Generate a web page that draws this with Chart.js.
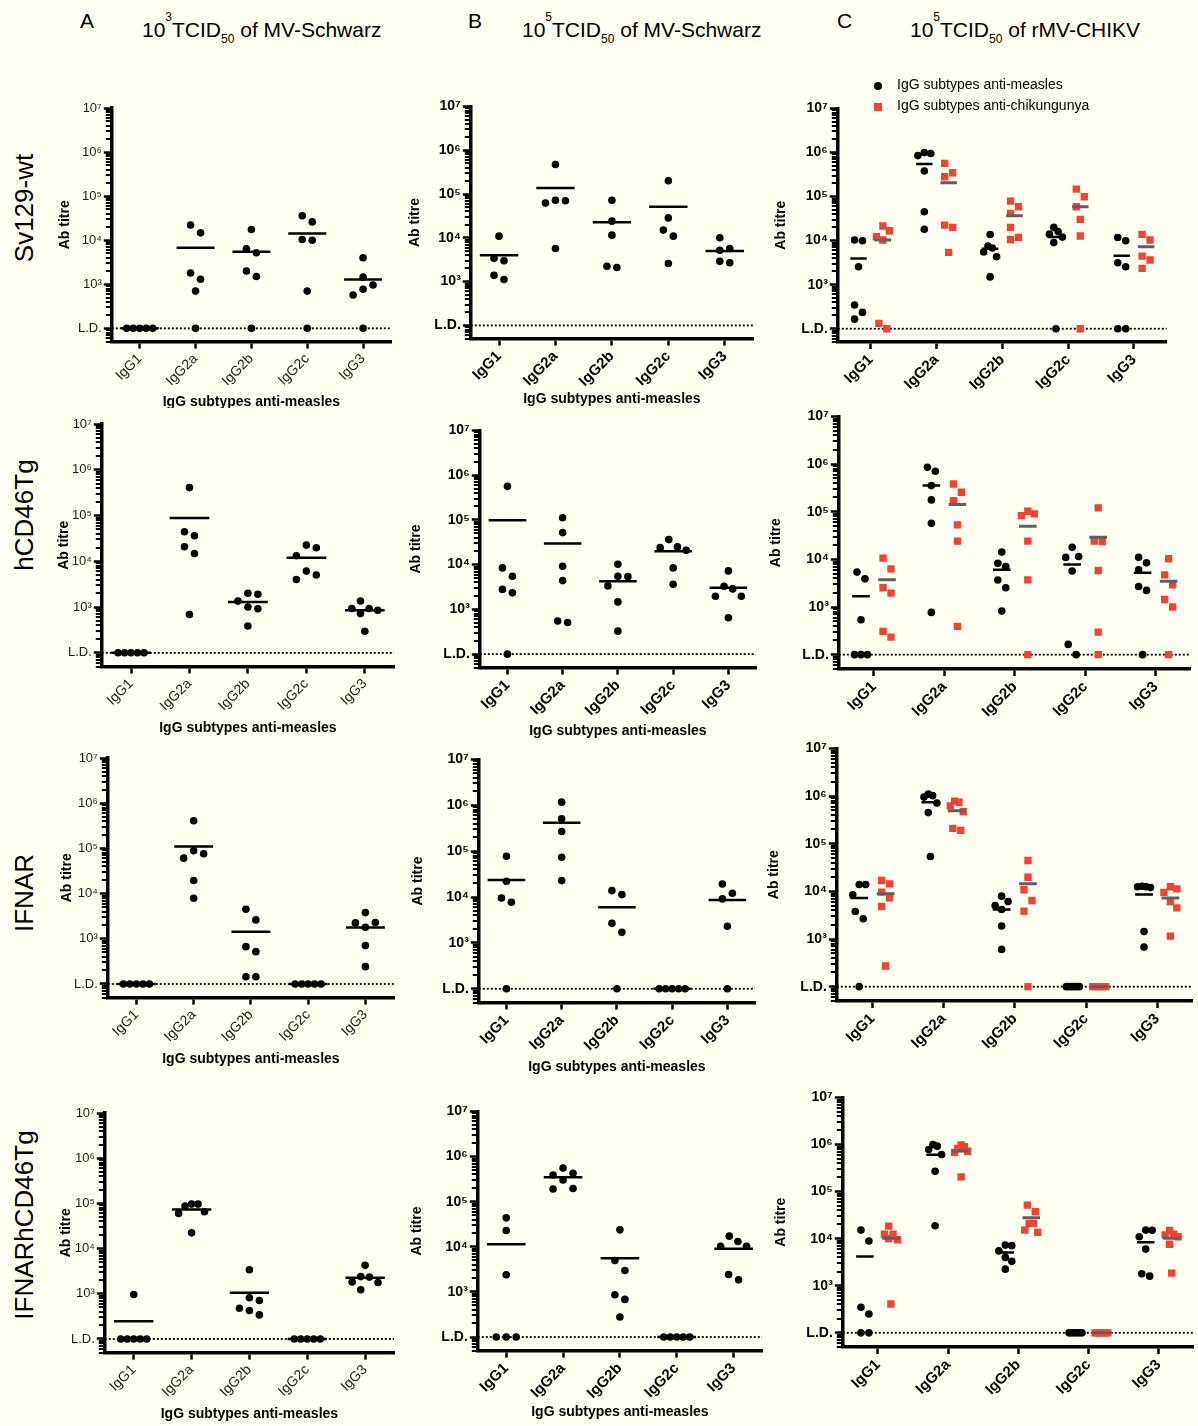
<!DOCTYPE html>
<html>
<head>
<meta charset="utf-8">
<script src="https://cdn.jsdelivr.net/npm/chart.js@4.4.1/dist/chart.umd.min.js"></script>
<style>
  body { margin: 0; background: #fffff2; font-family: Arial, "Liberation Sans", sans-serif; }
  #page { position: relative; width: 1198px; height: 1426px; overflow: hidden; }
  .panel { position: absolute; overflow: hidden; }
  .letter { position: absolute; font-size: 21px; line-height: 21px; }
  .head { position: absolute; font-size: 21px; line-height: 21px; white-space: nowrap; }
  .head .sup { font-size: 12px; position: relative; top: -16px; }
  .head .sub { font-size: 12px; position: relative; top: 6px; }
  .strain { position: absolute; font-size: 26px; white-space: nowrap; transform: translate(-50%, -50%) rotate(-90deg); }
  .legend { position: absolute; left: 874px; top: 74px; font-size: 14px; line-height: 21px; z-index: 5; }
  .legend div { white-space: nowrap; }
  .mark { display: inline-block; width: 8px; height: 8px; margin-right: 15px; vertical-align: -1px; }
</style>
</head>
<body>
<div id="page"></div>
<script>
// categories and axis labels
var categories = ["IgG1", "IgG2a", "IgG2b", "IgG2c", "IgG3"];
var yTickValues = [100, 1e3, 1e4, 1e5, 1e6, 1e7];
var yTickLabels = ["L.D.", "10³", "10⁴", "10⁵", "10⁶", "10⁷"];
var detectionLimit = 100;
var seriesNames = ["IgG subtypes anti-measles", "IgG subtypes anti-chikungunya"];
var strains = ["Sv129-wt", "hCD46Tg", "IFNAR", "IFNARhCD46Tg"];

// Sv129-wt
var sv129Low = [
    [100, 100, 100, 100, 100],
    [22000, 14700, 1800, 1300, 700, 100],
    [17500, 6400, 5200, 2000, 1500, 100],
    [36000, 26000, 10400, 10000, 700, 100],
    [4000, 1450, 960, 770, 570, 100]
];
var sv129LowMean = [100, 6700, 5500, 14200, 1290];
var sv129High = [
    [10900, 3400, 3000, 1400, 1120],
    [470000, 72000, 70000, 62000, 5700],
    [72000, 24000, 11500, 2250, 2100],
    [200000, 28500, 15000, 10900, 2600],
    [10000, 5700, 5200, 2900, 2700]
];
var sv129HighMean = [4000, 137000, 22700, 51000, 5000];
var sv129ChikMeasles = [
    [10300, 9900, 2550, 345, 235, 165],
    [1000000, 950000, 850000, 380000, 45000, 18000],
    [13800, 7500, 6800, 5500, 4300, 1500],
    [20000, 16000, 14000, 12000, 9000, 100],
    [11800, 9900, 3150, 2550, 100, 100]
];
var sv129ChikMeaslesMean = [3950, 546000, 6500, 12000, 4540];
var sv129ChikChik = [
    [21400, 16700, 12200, 10300, 132, 100],
    [565000, 347000, 281000, 22500, 19900, 5400],
    [78900, 58700, 41400, 20000, 11800, 10600],
    [147000, 98900, 58700, 30300, 12700, 100],
    [13800, 10300, 4460, 3620, 2340]
];
var sv129ChikChikMean = [10300, 206000, 36600, 58700, 7260];

// hCD46Tg
var cd46Low = [
    [100, 100, 100, 100, 100],
    [408000, 44300, 36200, 20800, 14800, 690],
    [2000, 1900, 1350, 1000, 920, 385],
    [22600, 19700, 13200, 6100, 5000, 4000],
    [1360, 930, 930, 850, 720, 295]
];
var cd46LowMean = [100, 88300, 1290, 11900, 850];
var cd46High = [
    [562000, 8450, 5500, 2800, 2340, 100],
    [112000, 52000, 9200, 4400, 550, 510],
    [10200, 5500, 5400, 3350, 1470, 326],
    [36300, 24900, 24000, 20900, 8450, 3650],
    [7250, 3300, 2870, 1970, 1970, 650]
];
var cd46HighMean = [98000, 29500, 4260, 19900, 3030];
var cd46ChikMeasles = [
    [5400, 3900, 540, 100, 100, 100],
    [855000, 705000, 353000, 177000, 57300, 770],
    [14200, 8300, 7100, 3700, 2530, 820],
    [18000, 11500, 11000, 5700, 164, 100],
    [11100, 8450, 6000, 2700, 2230, 100]
];
var cd46ChikMeaslesMean = [1690, 353000, 6040, 7800, 5220];
var cd46ChikChik = [
    [10600, 6300, 2530, 1960, 308, 234],
    [382000, 256000, 171000, 52900, 24100, 392],
    [102000, 90000, 83000, 24100, 3720, 100],
    [120000, 24100, 23500, 5840, 298, 100],
    [10300, 4740, 2930, 1440, 1000, 100]
];
var cd46ChikChikMean = [3720, 141000, 49700, 29200, 3490];

// IFNAR
var ifnarLow = [
    [100, 100, 100, 100, 100],
    [409000, 88500, 75900, 60800, 19500, 7900],
    [4500, 2620, 670, 520, 145, 145],
    [100, 100, 100, 100, 100],
    [3800, 2290, 2250, 1800, 707, 242]
];
var ifnarLowMean = [100, 110000, 1440, 100, 1780];
var ifnarHigh = [
    [77500, 22100, 9500, 7700, 100],
    [1170000, 507000, 268000, 73800, 22800],
    [13800, 11300, 2670, 1700, 100],
    [100, 100, 100, 100, 100],
    [19300, 12100, 9100, 2300, 100]
];
var ifnarHighMean = [23600, 414000, 5970, 100, 8630];
var ifnarChikMeasles = [
    [13900, 13900, 8460, 3790, 2660, 100],
    [1100000, 1020000, 950000, 716000, 449000, 53800],
    [7930, 6140, 5060, 4170, 1870, 605],
    [100, 100, 100, 100, 100, 100],
    [12800, 12500, 12500, 12000, 1440, 680]
];
var ifnarChikMeaslesMean = [7210, 739000, 4170, 100, 8590];
var ifnarChikChik = [
    [16900, 14400, 9620, 7330, 4820, 271],
    [780000, 740000, 620000, 470000, 210000, 190000],
    [44300, 19800, 10800, 6440, 3850, 100],
    [100, 100, 100, 100, 100, 100],
    [12500, 11300, 9500, 6100, 4500, 1150]
];
var ifnarChikChikMean = [8880, 494000, 14400, 100, 7210];

// IFNARhCD46Tg
var dblLow = [
    [966, 100, 100, 100, 100, 100],
    [96600, 96600, 87300, 65300, 60000, 22300],
    [3410, 815, 711, 480, 427, 341],
    [100, 100, 100, 100, 100],
    [4260, 2400, 2340, 1820, 1780, 1230]
];
var dblLowMean = [247, 73600, 1050, 100, 2270];
var dblHigh = [
    [43700, 22900, 2390, 100, 100, 100],
    [557000, 425000, 390000, 302000, 195000, 191000],
    [23700, 4970, 2990, 865, 681, 277],
    [100, 100, 100, 100, 100],
    [17200, 13100, 10300, 10300, 2430, 1850]
];
var dblHighMean = [11400, 347000, 5600, 100, 9000];
var dblChikMeasles = [
    [15200, 8930, 349, 252, 100, 100],
    [1000000, 922000, 780000, 615000, 269000, 18800],
    [7300, 7100, 5500, 4000, 3300, 2250],
    [100, 100, 100, 100, 100, 100],
    [15200, 15000, 11000, 6000, 1800, 1600]
];
var dblChikMeaslesMean = [4170, 605000, 5060, 100, 8370];
var dblChikChik = [
    [18500, 12500, 12500, 10000, 9500, 410],
    [980000, 900000, 820000, 720000, 680000, 205000],
    [51400, 37200, 21100, 21100, 15200, 13600],
    [100, 100, 100, 100, 100, 100],
    [15000, 12500, 12000, 11000, 7600, 1850]
];
var dblChikChikMean = [10200, 723000, 27800, 100, 10200];

var black = "#000000";
var red = "#f5412f";
var grey = "#5f5f5f";
var fontFamily = 'Arial, "Liberation Sans", sans-serif';
var yMin = 50;

// plot boxes (l, t, r, b of the axes), y title x, x title y
var rows = [
    [
        { l: 112, t: 108, r: 392, b: 342, tx: 65, xt: 403, clip: 408 },
        { l: 471, t: 106, r: 754, b: 339, tx: 415, xt: 400 },
        { l: 838, t: 108, r: 1169, b: 342, tx: 781 }
    ],
    [
        { l: 102, t: 424, r: 395, b: 667, tx: 64, xt: 729 },
        { l: 480, t: 430, r: 757, b: 668, tx: 416, xt: 732 },
        { l: 839, t: 416, r: 1193, b: 669, tx: 776 }
    ],
    [
        { l: 108, t: 758, r: 395, b: 998, tx: 67, xt: 1060 },
        { l: 479, t: 759, r: 756, b: 1003, tx: 418, xt: 1068 },
        { l: 837, t: 748, r: 1195, b: 1001, tx: 774 }
    ],
    [
        { l: 105, t: 1113, r: 395, b: 1353, tx: 66, xt: 1415 },
        { l: 478, t: 1111, r: 763, b: 1351, tx: 417, xt: 1413 },
        { l: 843, t: 1097, r: 1196, b: 1347, tx: 781 }
    ]
];

var rowData = [
    [sv129Low, sv129LowMean, sv129High, sv129HighMean, sv129ChikMeasles, sv129ChikMeaslesMean, sv129ChikChik, sv129ChikChikMean],
    [cd46Low, cd46LowMean, cd46High, cd46HighMean, cd46ChikMeasles, cd46ChikMeaslesMean, cd46ChikChik, cd46ChikChikMean],
    [ifnarLow, ifnarLowMean, ifnarHigh, ifnarHighMean, ifnarChikMeasles, ifnarChikMeaslesMean, ifnarChikChik, ifnarChikChikMean],
    [dblLow, dblLowMean, dblHigh, dblHighMean, dblChikMeasles, dblChikMeaslesMean, dblChikChik, dblChikChikMean]
];

var page = document.getElementById("page");

// spread points of one column sideways, like a prism scatter dot plot
function swarm(values, pxPerDecade, slotPx, capPx, unitPx) {
    var gap = 11;
    var pts = values.map(function (v) { return { v: v, py: Math.log10(v) * pxPerDecade, slot: 0, dx: 0 }; });
    pts.sort(function (a, b) { return b.v - a.v; });
    pts.forEach(function (p, i) {
        for (var k = 0; ; k++) {
            var s = k === 0 ? 0 : (k % 2 ? (k + 1) / 2 : -k / 2);
            var hit = pts.slice(0, i).some(function (q) { return q.slot === s && Math.abs(q.py - p.py) < gap; });
            if (!hit) { p.slot = s; break; }
        }
    });
    var start = 0;
    for (var i = 1; i <= pts.length; i++) {
        if (i === pts.length || pts[i - 1].py - pts[i].py >= gap) {
            var chain = pts.slice(start, i);
            var slots = chain.map(function (p) { return p.slot; });
            var lo = Math.min.apply(null, slots), hi = Math.max.apply(null, slots);
            var step = hi > lo ? Math.min(slotPx, capPx / (hi - lo)) : 0;
            chain.forEach(function (p) { p.dx = (p.slot - (lo + hi) / 2) * step / unitPx; });
            start = i;
        }
    }
    return pts;
}

var minorTicks = {
    id: "minorTicks",
    afterDraw: function (chart) {
        var y = chart.scales.y, ctx = chart.ctx, x0 = chart.chartArea.left;
        ctx.save();
        ctx.strokeStyle = black;
        ctx.lineWidth = 2;
        for (var e = 1; e < 7; e++) {
            for (var m = 2; m < 10; m++) {
                var v = m * Math.pow(10, e);
                if (v < y.min || v > y.max) continue;
                var py = Math.round(y.getPixelForValue(v));
                ctx.beginPath();
                ctx.moveTo(x0 - 6, py);
                ctx.lineTo(x0, py);
                ctx.stroke();
            }
        }
        ctx.restore();
    }
};

function makePanel(box, groups, col) {
    var bold = col > 0;
    var xAxisH = box.xt ? box.xt - box.b + 8.4 : 60;
    var left = box.tx - 7.8;
    var top = box.t - 10;
    var yAxisW = box.l - left;
    var width = box.r - left + 4;
    var height = box.b - top + xAxisH;
    var unitPx = (box.r - box.l) / 5;
    var pxPerDecade = (box.b - box.t) / (7 - Math.log10(yMin));

    var wrap = document.createElement("div");
    wrap.className = "panel";
    wrap.style.left = left + "px";
    wrap.style.top = top + "px";
    wrap.style.width = width + "px";
    wrap.style.height = (box.clip ? box.clip - top : height) + "px";
    var canvas = document.createElement("canvas");
    canvas.width = width;
    canvas.height = height;
    wrap.appendChild(canvas);
    page.appendChild(wrap);

    var datasets = [];
    groups.forEach(function (g) {
        var pts = [];
        var meanPts = [];
        g.values.forEach(function (list, ci) {
            swarm(list, pxPerDecade, g.slotPx, g.capPx, unitPx).forEach(function (p) {
                pts.push({ x: ci + g.center + p.dx, y: p.v });
            });
            var m = g.means[ci];
            meanPts.push({ x: ci + g.center - g.halfW, y: m });
            meanPts.push({ x: ci + g.center + g.halfW, y: m });
            meanPts.push({ x: ci + g.center + g.halfW, y: null });
        });
        datasets.push({
            label: g.label,
            type: "scatter",
            data: pts,
            pointStyle: g.style,
            pointRadius: g.radius,
            pointBackgroundColor: g.color,
            pointBorderWidth: 0,
            order: 1
        });
        datasets.push({
            label: g.label + " mean",
            type: "line",
            data: meanPts,
            borderColor: g.meanColor,
            borderWidth: g.meanWidth,
            borderCapStyle: "butt",
            pointRadius: 0,
            spanGaps: false,
            fill: false,
            order: 0
        });
    });
    datasets.push({
        label: "L.D.",
        type: "line",
        data: [{ x: -0.5, y: detectionLimit }, { x: 4.5, y: detectionLimit }],
        borderColor: black,
        borderWidth: 1.8,
        borderDash: [2, 2],
        borderCapStyle: "butt",
        pointRadius: 0,
        fill: false,
        order: 2
    });

    var tickFont = { family: fontFamily, size: bold ? 14 : 13, weight: bold ? "bold" : "normal" };
    var xTickFont = { family: fontFamily, size: bold ? 15 : 14, weight: bold ? "bold" : "normal" };

    new Chart(canvas.getContext("2d"), {
        type: "scatter",
        data: { datasets: datasets },
        options: {
            responsive: false,
            animation: false,
            events: [],
            layout: { padding: { top: 10, right: 4, left: 0, bottom: 0 } },
            plugins: { legend: { display: false }, tooltip: { enabled: false } },
            scales: {
                x: {
                    type: "linear",
                    min: -0.5,
                    max: 4.5,
                    afterBuildTicks: function (s) { s.ticks = categories.map(function (c, i) { return { value: i }; }); },
                    afterFit: function (s) { s.height = xAxisH; },
                    ticks: {
                        autoSkip: false,
                        minRotation: 45,
                        maxRotation: 45,
                        padding: 2,
                        color: bold ? black : "#1a1a1a",
                        font: xTickFont,
                        callback: function (v) { return categories[v]; }
                    },
                    grid: { display: true, drawOnChartArea: false, drawTicks: true, tickLength: 7, tickWidth: 2.5, tickColor: black },
                    border: { display: true, color: black, width: 3.5 },
                    title: {
                        display: !!box.xt,
                        text: "IgG subtypes anti-measles",
                        color: black,
                        font: { family: fontFamily, size: 14, weight: "bold" },
                        padding: { top: 0, bottom: 0 }
                    }
                },
                y: {
                    type: "logarithmic",
                    min: yMin,
                    max: 1e7,
                    afterBuildTicks: function (s) { s.ticks = yTickValues.map(function (v) { return { value: v }; }); },
                    afterFit: function (s) { s.width = yAxisW; },
                    ticks: {
                        autoSkip: false,
                        padding: 2,
                        color: bold ? black : "#1a1a1a",
                        font: tickFont,
                        callback: function (v) { return yTickLabels[yTickValues.indexOf(v)]; }
                    },
                    grid: { display: true, drawOnChartArea: false, drawTicks: true, tickLength: 8, tickWidth: 2.5, tickColor: black },
                    border: { display: true, color: black, width: 3.5 },
                    title: {
                        display: true,
                        text: "Ab titre",
                        color: black,
                        font: { family: fontFamily, size: 14, weight: "bold" },
                        padding: { top: 0, bottom: 0 }
                    }
                }
            }
        },
        plugins: [minorTicks]
    });
}

rows.forEach(function (row, ri) {
    var d = rowData[ri];
    var single = { style: "circle", radius: 3.8, color: black, meanColor: black, meanWidth: 2.5, center: 0, halfW: 0.34, slotPx: 10, capPx: 26, label: seriesNames[0] };
    makePanel(row[0], [Object.assign({}, single, { values: d[0], means: d[1] })], 0);
    makePanel(row[1], [Object.assign({}, single, { values: d[2], means: d[3] })], 1);
    makePanel(row[2], [
        { values: d[4], means: d[5], label: seriesNames[0], style: "circle", radius: 3.8, color: black, meanColor: black, meanWidth: 2.5, center: -0.185, halfW: 0.125, slotPx: 8, capPx: 13 },
        { values: d[6], means: d[7], label: seriesNames[1], style: "rect", radius: 5.2, color: red, meanColor: grey, meanWidth: 3, center: 0.185, halfW: 0.125, slotPx: 8, capPx: 13 }
    ], 2);

    var s = document.createElement("div");
    s.className = "strain";
    s.textContent = strains[ri];
    s.style.left = "24px";
    s.style.top = [208, 515, 893, 1225][ri] + "px";
    page.appendChild(s);
});

// column headings
var heads = [
    { letter: "A", lx: 80, hx: 142, exp: "3", virus: "MV-Schwarz" },
    { letter: "B", lx: 468, hx: 522, exp: "5", virus: "MV-Schwarz" },
    { letter: "C", lx: 837, hx: 910, exp: "5", virus: "rMV-CHIKV" }
];
heads.forEach(function (h) {
    var l = document.createElement("div");
    l.className = "letter";
    l.style.left = h.lx + "px";
    l.style.top = "10px";
    l.textContent = h.letter;
    page.appendChild(l);
    var t = document.createElement("div");
    t.className = "head";
    t.style.left = h.hx + "px";
    t.style.top = "19px";
    t.innerHTML = '10<span class="sup">' + h.exp + '</span>TCID<span class="sub">50</span> of ' + h.virus;
    page.appendChild(t);
});

// legend for panel C
var legend = document.createElement("div");
legend.className = "legend";
legend.innerHTML =
    '<div><span class="mark" style="background:' + black + ';border-radius:50%"></span>' + seriesNames[0] + '</div>' +
    '<div><span class="mark" style="background:' + red + '"></span>' + seriesNames[1] + '</div>';
page.appendChild(legend);
</script>
</body>
</html>
